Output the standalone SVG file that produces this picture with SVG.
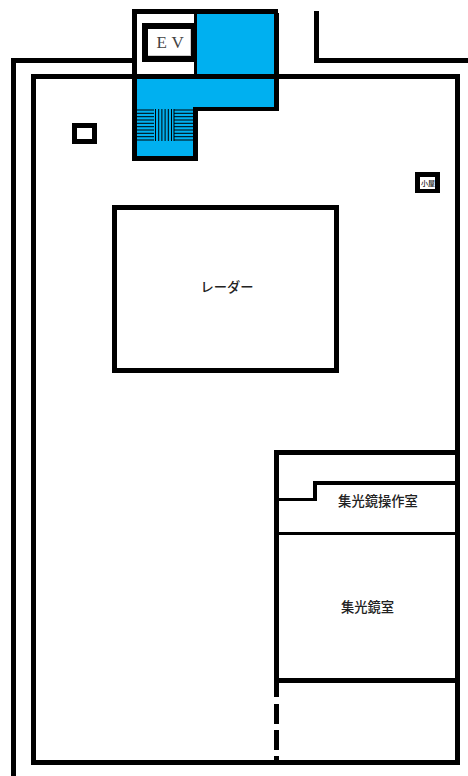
<svg xmlns="http://www.w3.org/2000/svg" width="468" height="776" viewBox="0 0 468 776">
<style>
.k{fill:#000}.b{fill:#00b0f0}.w{fill:#fff}
text{font-family:"Noto Sans CJK JP","Noto Sans",sans-serif;fill:#222;text-anchor:middle}
.l{font-size:13.300px;font-weight:500}
</style>
<rect width="468" height="776" fill="#fff"/>
<g id="walls">
<rect class="k" x="11" y="58" width="122" height="5"/>
<rect class="k" x="11" y="58" width="5" height="718"/>
<rect class="k" x="31" y="74" width="429" height="5"/>
<rect class="k" x="31" y="74" width="5" height="691"/>
<rect class="k" x="31" y="760" width="429" height="5"/>
<rect class="k" x="455" y="74" width="5" height="691"/>
<rect class="k" x="314" y="11" width="5" height="52"/>
<rect class="k" x="314" y="58" width="154" height="5"/>
</g>
<g id="core">
<rect class="b" x="197" y="14" width="77" height="60"/>
<path class="b" d="M137 79H274V107H193V156H137Z"/>
<rect class="k" x="132" y="9" width="146" height="5"/>
<rect class="k" x="132" y="9" width="5" height="152"/>
<rect class="k" x="274" y="13" width="5" height="98"/>
<rect class="k" x="194" y="14" width="3" height="60"/>
<rect class="k" x="193" y="107" width="86" height="4"/>
<rect class="k" x="193" y="107" width="5" height="54"/>
<rect class="k" x="132" y="156" width="66" height="5"/>
<rect class="k" x="132" y="74" width="147" height="5"/>
</g>
<g id="ev">
<rect class="k" x="142" y="23" width="52" height="39"/>
<rect x="148" y="29" width="43" height="27" fill="#ccc"/>
<rect class="w" x="148" y="29" width="42" height="26"/>
<text x="156.500 171.500" y="48" style="font-family:'Liberation Serif',serif;font-size:17px;fill:#444;text-anchor:start">EV</text>
</g>
<g id="stairs" stroke="#000" stroke-width="1">
<path d="M137 110H154M137 113.300H154M137 116.700H154M137 120H154M137 123.300H154M137 126.700H154M137 130H154M137 133.300H154M137 136.700H154M137 140H154M174 110H193M174 113.300H193M174 116.700H193M174 120H193M174 123.300H193M174 126.700H193M174 130H193M174 133.300H193M174 136.700H193M174 140H193"/>
<path d="M155.500 109V141M158.700 109V141M161.900 109V141M165.100 109V141M168.300 109V141M171.500 109V141M174 109V141"/>
</g>
<g id="box"><rect class="k" x="72" y="123" width="25" height="21"/><rect class="w" x="77" y="128" width="15" height="11"/></g>
<g id="hut"><rect class="k" x="415" y="172" width="25" height="21"/><rect class="w" x="420" y="177" width="15" height="12"/><text x="428" y="186" style="font-size:7px;font-weight:500">小屋</text></g>
<g id="radar"><rect x="114.500" y="207.500" width="222" height="163" fill="#fff" stroke="#000" stroke-width="5"/><text class="l" x="227" y="292">レーダー</text></g>
<g id="rooms">
<rect class="k" x="274" y="450" width="5" height="247"/>
<rect class="k" x="274" y="450" width="181" height="5"/>
<rect class="k" x="313" y="481" width="142" height="4"/>
<rect class="k" x="313" y="481" width="4" height="20"/>
<rect class="k" x="279" y="498" width="36" height="3"/>
<rect class="k" x="279" y="532" width="176" height="3"/>
<rect class="k" x="279" y="678" width="176" height="5"/>
<rect class="k" x="274" y="704" width="5" height="20"/>
<rect class="k" x="274" y="730" width="5" height="20"/>
<rect class="k" x="274" y="756" width="5" height="5"/>
<text class="l" x="378" y="505.500">集光鏡操作室</text>
<text class="l" x="367.500" y="611.500">集光鏡室</text>
</g>
</svg>
